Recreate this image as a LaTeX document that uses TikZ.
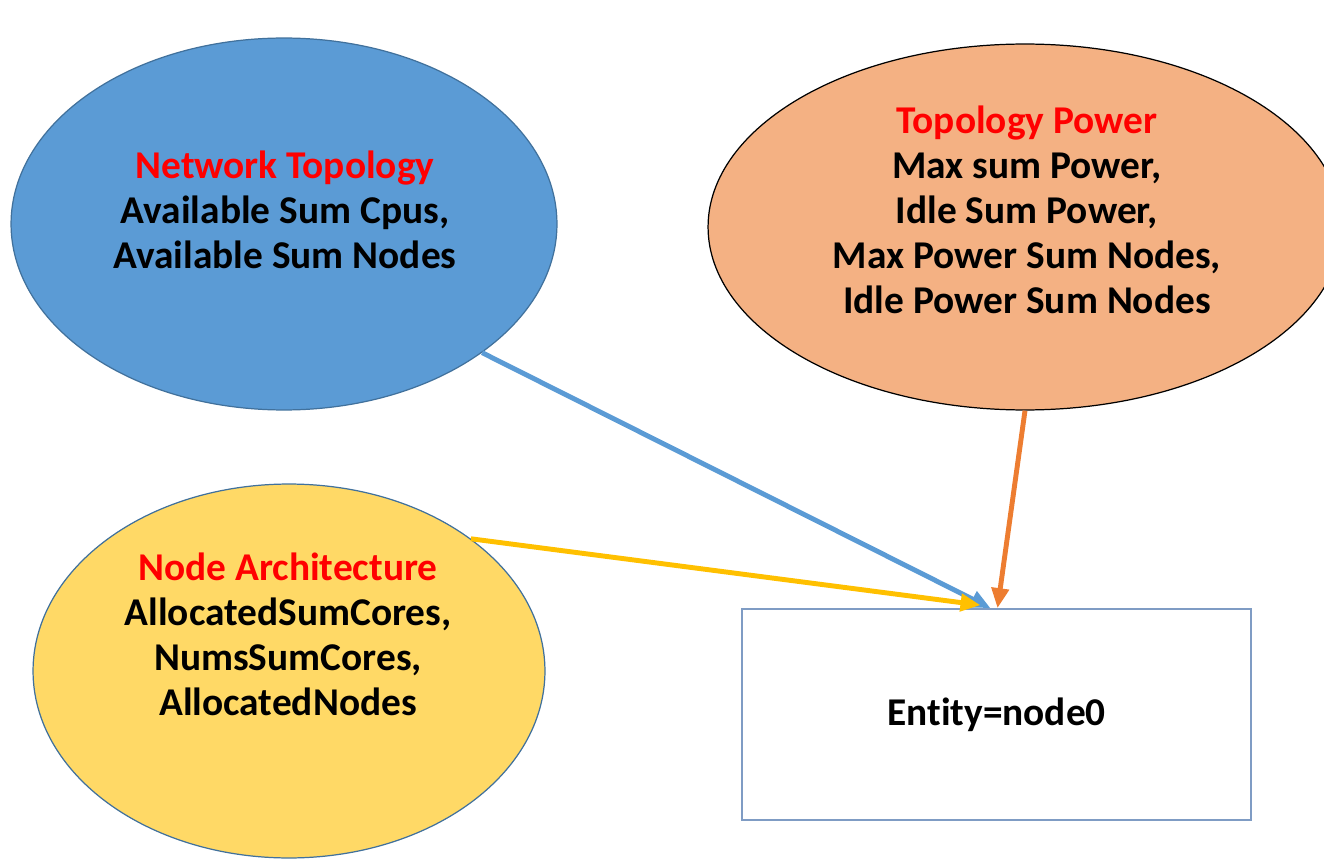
\documentclass[tikz,border=0pt]{standalone}
\usepackage{fontspec}
\setmainfont{Carlito}[RawFeature=-liga]
\usepackage{xcolor}
\definecolor{nblue}{HTML}{5B9BD5}
\definecolor{nborder}{HTML}{41719C}
\definecolor{porange}{HTML}{F4B183}
\definecolor{parrow}{HTML}{ED7D31}
\definecolor{ayellow}{HTML}{FFD966}
\definecolor{aarrow}{HTML}{FFC000}
\definecolor{eborder}{HTML}{7F9CC4}
\usepackage{tikz}
\usetikzlibrary{arrows.meta,shapes,positioning,calc}

\begin{document}
\begin{tikzpicture}[x=0.02cm,y=-0.02cm,
  blob/.style={ellipse,draw,line width=0.7pt,inner sep=0pt},
  txt/.style={align=center,font=\fontsize{22.4}{25.6}\selectfont\bfseries},
  link/.style={line width=2.8pt,-{Triangle[length=0.4cm,width=0.34cm]}}]
  \clip (0,0) rectangle (1324,861);
  \node[blob,fill=nblue,draw=nborder,minimum width=10.92cm,minimum height=7.44cm] (nt) at (284,224) {};
  \node[blob,fill=porange,draw=black,minimum width=12.68cm,minimum height=7.32cm] (tp) at (1025,227) {};
  \node[blob,fill=ayellow,draw=nborder,minimum width=10.24cm,minimum height=7.48cm] (na) at (289,671) {};
  \node[txt] (ntl) at (285,210) {\textcolor{red}{Network Topology}\\Available Sum Cpus,\\Available Sum Nodes};
  \node[txt] (tpl) at (1027,210) {\textcolor{red}{Topology Power}\\Max sum Power,\\Idle Sum Power,\\Max Power Sum Nodes,\\Idle Power Sum Nodes};
  \node[txt] (nal) at (288,634) {\textcolor{red}{Node Architecture}\\AllocatedSumCores,\\NumsSumCores,\\AllocatedNodes};
  \node[txt,draw=eborder,line width=1pt,fill=white,minimum width=10.18cm,minimum height=4.22cm] (ent) at (996.5,714.5) {Entity=node0};
  \draw[link,nblue] (nt.-33) -- ($(ent.north)+(-6,0)$);
  \draw[link,parrow] (tp.south) -- ($(ent.north)+(1,0)$);
  \draw[link,aarrow] (na.36) -- ($(ent.north)+(-16,-3)$);
\end{tikzpicture}
\end{document}
